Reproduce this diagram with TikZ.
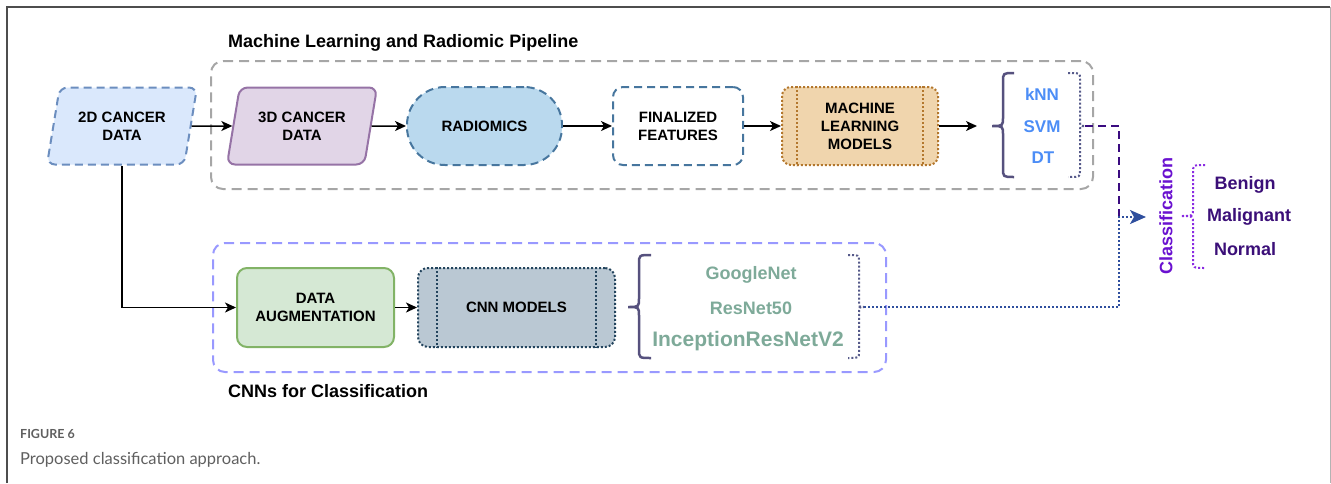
\documentclass[tikz,border=0pt]{standalone}
\usepackage{fontspec}
\setmainfont{Liberation Sans}
\newfontfamily\capfont{Lato}
\usetikzlibrary{arrows.meta,shapes.geometric}

\definecolor{frameL}{HTML}{4D4D4D}
\definecolor{frameR}{HTML}{B3B3B3}
\definecolor{grayC}{HTML}{A6A6A6}
\definecolor{lavC}{HTML}{9999FF}
\definecolor{dtwofill}{HTML}{DAE8FC}
\definecolor{dtwoline}{HTML}{6C8EBF}
\definecolor{dthreefill}{HTML}{E1D5E7}
\definecolor{dthreeline}{HTML}{9673A6}
\definecolor{radfill}{HTML}{BAD9EE}
\definecolor{radline}{HTML}{47769E}
\definecolor{mlfill}{HTML}{F0D5AD}
\definecolor{mlline}{HTML}{B3772D}
\definecolor{dafill}{HTML}{D5E8D4}
\definecolor{daline}{HTML}{82B366}
\definecolor{cnnfill}{HTML}{BAC8D3}
\definecolor{cnnline}{HTML}{23445D}
\definecolor{braceC}{HTML}{56517E}
\definecolor{bracketC}{HTML}{565A8A}
\definecolor{algC}{HTML}{4C8DF6}
\definecolor{netC}{HTML}{7EAA99}
\definecolor{clsC}{HTML}{6A11D0}
\definecolor{clsbrace}{HTML}{8A2BE2}
\definecolor{classC}{HTML}{3B0F78}
\definecolor{joinP}{HTML}{3A0B80}
\definecolor{joinB}{HTML}{2F4F9E}
\definecolor{capgray}{HTML}{5F5F5F}

% curly brace: style, x of tip, x of stem, x of ends, y top, y tip, y bottom, bend
\newcommand{\drawbrace}[8]{%
  \draw[#1] (#4,#5) .. controls (#3,#5) .. (#3,{#5+#8}) -- (#3,{#6-#8})
    .. controls (#3,#6) .. (#2,#6) .. controls (#3,#6) .. (#3,{#6+#8})
    -- (#3,{#7-#8}) .. controls (#3,#7) .. (#4,#7);}

\tikzset{
  container/.style={draw, line width=2pt, rounded corners=12pt, dash pattern=on 10pt off 6pt, inner sep=0pt},
  boxtext/.style={font=\fontsize{15}{18}\selectfont\bfseries, align=center, inner sep=2pt},
  para/.style={boxtext, trapezium, trapezium left angle=74, trapezium right angle=106,
    trapezium stretches=true, minimum width=150pt, minimum height=77pt, rounded corners=8pt, line width=2pt},
  boxdash/.style={dash pattern=on 8pt off 5pt},
  dotline/.style={dash pattern=on 2pt off 2pt},
  flow/.style={-{Stealth[length=11pt,width=10pt,inset=3pt]}, line width=1.5pt, black},
  alg/.style={font=\fontsize{17}{20}\selectfont\bfseries, text=algC},
  net/.style={font=\fontsize{18}{21}\selectfont\bfseries, text=netC},
  cls/.style={font=\fontsize{18}{21}\selectfont\bfseries, text=classC},
  heading/.style={font=\fontsize{18}{21}\selectfont\bfseries, anchor=west, inner sep=0pt}
}

\begin{document}
\begin{tikzpicture}[x=1pt,y=-1pt]
\useasboundingbox (0,0) rectangle (1331,483);

% figure frame
\draw[frameL, line width=1.5pt] (7,483) -- (7,7) -- (1330,7);
\draw[frameR, line width=1pt] (1330,7) -- (1330,483);

% group frames
\node[container, draw=grayC, minimum width=882pt, minimum height=128pt] (mlgroup) at (652,125) {};
\node[container, draw=lavC, minimum width=673pt, minimum height=129pt] (cnngroup) at (549.5,307.5) {};
\node[heading] (mltitle) at (228,43) {Machine Learning and Radiomic Pipeline};
\node[heading] (cnntitle) at (228,391) {CNNs for Classification};

% radiomic pipeline
\node[para, draw=dtwoline, fill=dtwofill, boxdash] (d2) at (122,126) {2D CANCER\\DATA};
\node[para, draw=dthreeline, fill=dthreefill] (d3) at (302,126) {3D CANCER\\DATA};
\node[boxtext, draw=radline, fill=radfill, boxdash, line width=2pt, rounded corners=38pt,
  minimum width=155pt, minimum height=78pt] (rad) at (484.5,126) {RADIOMICS};
\node[boxtext, draw=radline, fill=white, boxdash, line width=2pt, rounded corners=10pt,
  minimum width=130pt, minimum height=78pt] (fin) at (678,126) {FINALIZED\\FEATURES};
\node[boxtext, draw=mlline, fill=mlfill, dotline, line width=2pt, rounded corners=9pt,
  minimum width=156pt, minimum height=78pt] (ml) at (860,126) {MACHINE\\LEARNING\\MODELS};
\draw[mlline, dotline, line width=2pt] ([xshift=16pt]ml.north west) -- ([xshift=16pt]ml.south west);
\draw[mlline, dotline, line width=2pt] ([xshift=-16pt]ml.north east) -- ([xshift=-16pt]ml.south east);

% machine learning algorithms
\drawbrace{braceC, line width=2.5pt}{992}{1003}{1014}{73}{126}{177}{9}
\coordinate (tipA) at (992,126);
\node[alg] (knn) at (1042,94) {kNN};
\node[alg] (svm) at (1042,127) {SVM};
\node[alg] (dt) at (1043,158) {DT};
\drawbrace{bracketC, dotline, line width=2pt}{1085}{1080}{1068}{73}{126}{177}{6}
\coordinate (rtA) at (1085,126);

% CNN branch
\node[boxtext, draw=daline, fill=dafill, line width=2pt, rounded corners=10pt,
  minimum width=157pt, minimum height=79pt] (da) at (315.5,307.5) {DATA\\AUGMENTATION};
\node[boxtext, draw=cnnline, fill=cnnfill, dotline, line width=2pt, rounded corners=10pt,
  minimum width=197pt, minimum height=79pt] (cnn) at (516.5,307.5) {CNN MODELS};
\draw[cnnline, dotline, line width=2pt] ([xshift=20pt]cnn.north west) -- ([xshift=20pt]cnn.south west);
\draw[cnnline, dotline, line width=2pt] ([xshift=-20pt]cnn.north east) -- ([xshift=-20pt]cnn.south east);

\drawbrace{braceC, line width=2.5pt}{628}{639}{651}{255}{307}{358}{9}
\node[net] (gnet) at (751,275) {GoogleNet};
\node[net] (rnet) at (751,308) {ResNet50};
\node[net, font=\fontsize{21}{24}\selectfont\bfseries] (irnet) at (748,341) {InceptionResNetV2};
\drawbrace{bracketC, dotline, line width=2pt}{864}{859}{848}{255}{307}{358}{6}
\coordinate (rtB) at (864,307);

% classification
\coordinate (join) at (1119,217);
\coordinate (clsin) at (1146,217);
\node[font=\fontsize{18}{21}\selectfont\bfseries, text=clsC, rotate=90] (clslabel) at (1166,216) {Classification};
\drawbrace{clsbrace, dotline, line width=2pt}{1181}{1193}{1205}{165}{216}{268}{8}
\node[cls] (benign) at (1245,185) {Benign};
\node[cls] (malig) at (1249,217) {Malignant};
\node[cls] (normal) at (1245,249) {Normal};

% connectors
\draw[flow] (d2) -- (d3);
\draw[flow] (d3) -- (rad);
\draw[flow] (rad) -- (fin);
\draw[flow] (fin) -- (ml);
\draw[flow, shorten >=15pt] (ml) -- (tipA);
\draw[flow] (d2.south -| d2.center) |- (da.west);
\draw[flow] (da) -- (cnn);
\draw[joinP, line width=2pt, dash pattern=on 8pt off 5pt] (rtA) -| (join);
\draw[joinB, line width=2pt, dotline, -{Stealth[length=16pt,width=14pt,inset=4pt]}] (rtB) -| (join) -- (clsin);

% caption
\node[anchor=west, inner sep=0pt, text=capgray, font=\capfont\bfseries\fontsize{12.5}{15}\selectfont] (figno) at (20,434) {FIGURE 6};
\node[anchor=west, inner sep=0pt, text=capgray, font=\capfont\fontsize{16.5}{20}\selectfont] (figcap) at (20,460) {Proposed classification approach.};
\end{tikzpicture}
\end{document}
